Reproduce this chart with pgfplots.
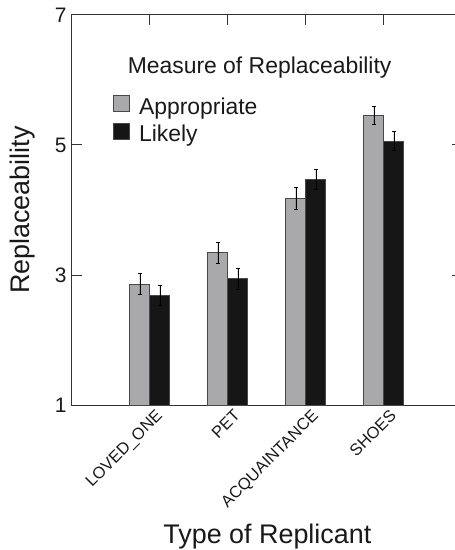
\documentclass[border=0pt]{standalone}
\usepackage{fontspec}
\setmainfont{Liberation Sans}
\usepackage{pgfplots}
\pgfplotsset{compat=1.18}
\usepackage{pgfplotstable}
\usetikzlibrary{calc}

\definecolor{appgray}{HTML}{A9A9AB}
\definecolor{likblack}{HTML}{161616}
\definecolor{edgegray}{HTML}{484848}
\definecolor{axisgray}{HTML}{333333}

\pgfplotsset{
  sqlegend/.style={legend image code/.code={\draw[##1] (0bp,-5bp) rectangle (16bp,11bp);}},
  errstyle/.style={error bars/.cd,y dir=both,y explicit,
    error bar style={black,line width=0.8bp},
    error mark options={rotate=90,mark size=1.6bp,black,line width=0.8bp}},
}

% means and standard errors
\pgfplotstableread{
x y err
1 2.86 0.165
2 3.34 0.165
3 4.18 0.17
4 5.45 0.14
}\appropriate
\pgfplotstableread{
x y err
1 2.69 0.15
2 2.94 0.16
3 4.47 0.155
4 5.06 0.15
}\likely

\begin{document}
\begin{tikzpicture}
\begin{axis}[
  name=ax,
  scale only axis,
  width=390bp, height=390bp,
  xmin=0, xmax=5, ymin=1, ymax=7,
  ybar, bar width=20bp,
  xtick={1,2,3,4},
  xticklabels={LOVED\_ONE,PET,ACQUAINTANCE,SHOES},
  ytick={1,3,5,7}, yticklabels={1,3,5,7},
  tick align=inside, major tick length=10bp,
  axis line style={axisgray,line width=1bp},
  tick style={axisgray,line width=1bp},
  yticklabel style={font=\fontsize{21}{25}\selectfont,text=black!90,xshift=-2bp},
  xticklabel style={font=\fontsize{16.5}{19}\selectfont,text=black!90,
    xshift=5bp,yshift=-2bp,rotate=45,anchor=north east,inner sep=1bp},
  xlabel={Type of Replicant},
  ylabel={Replaceability},
  label style={font=\fontsize{27}{32}\selectfont,text=black!90},
  xlabel style={at={(axis description cs:0.501,-0.354)},anchor=base},
  ylabel style={at={(axis description cs:-0.128,0.5)},anchor=center},
  legend style={draw=none,fill=none,
    at={(axis description cs:0.097,0.80)},anchor=north west,
    font=\fontsize{23}{28}\selectfont,text=black!90,row sep=5bp,
    /tikz/every odd column/.append style={column sep=7bp}},
  legend cell align=left,
]
\addplot[fill=appgray,draw=edgegray,line width=1bp,bar shift=-10bp,sqlegend,errstyle]
  table[x=x,y=y,y error=err]{\appropriate};
\addlegendentry{Appropriate}
\addplot[fill=likblack,draw=edgegray,line width=1bp,bar shift=10bp,sqlegend,errstyle]
  table[x=x,y=y,y error=err]{\likely};
\addlegendentry{Likely}
\node[anchor=base,font=\fontsize{23}{28}\selectfont,text=black!90]
  at (axis description cs:0.481,0.851) {Measure of Replaceability};
\end{axis}
\pgfresetboundingbox
\path ($(ax.south west)+(-72bp,-145bp)$) rectangle ($(ax.south west)+(383bp,405bp)$);
\end{tikzpicture}
\end{document}
